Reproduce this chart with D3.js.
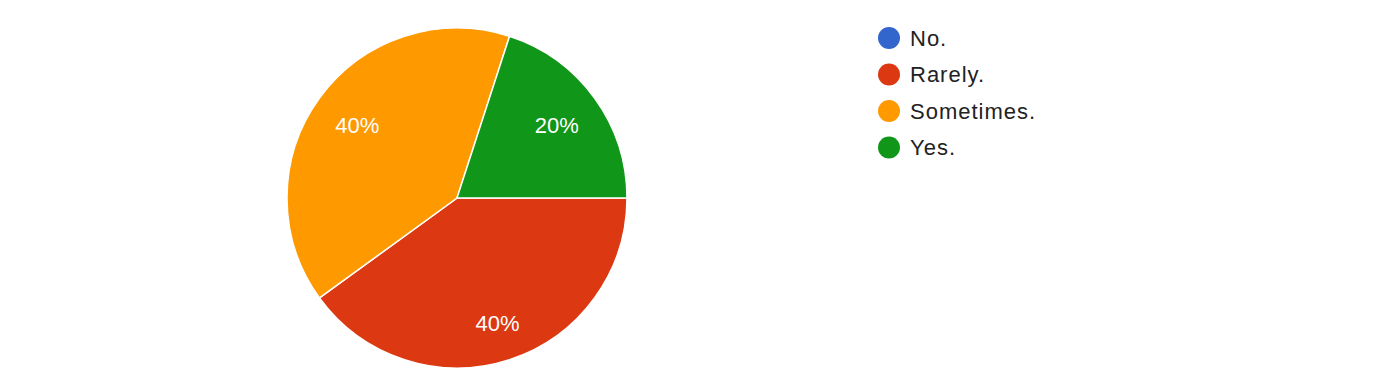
<!DOCTYPE html>
<html>
<head>
  <meta charset="utf-8"/>
  <title>Pie</title>
  <style type="text/css">
    body { margin:0; padding:0; background-color:white; }
    text { font-family: Arial, "Liberation Sans", sans-serif; }
  </style>
  <script src="https://cdn.jsdelivr.net/npm/d3@7"></script>
</head>
<body>
<script type="text/javascript">

  var categories = ["No.", "Rarely.", "Sometimes.", "Yes."];
  var values = [0, 2, 2, 1];
  var colors = ["#3366cc", "#dc3912", "#ff9900", "#109618"];

  var w = 1387, h = 389;
  var cx = 457, cy = 198, radius = 170;

  var svg = d3.select("body").append("svg")
              .attr("width", w)
              .attr("height", h);

  var total = d3.sum(values);

  // slices go clockwise from 3 o'clock
  var pie = d3.pie()
              .sort(null)
              .startAngle(Math.PI / 2)
              .endAngle(Math.PI / 2 + 2 * Math.PI)
              .value(function(d) { return d; });

  var arc = d3.arc().innerRadius(0).outerRadius(radius);

  var pieGroup = svg.append("g").attr("transform", "translate(" + cx + "," + cy + ")");

  var arcs = pie(values).filter(function(d) { return d.value > 0; });

  pieGroup.selectAll("path")
          .data(arcs)
          .enter().append("path")
          .attr("d", arc)
          .style("fill", function(d) { return colors[d.index]; })
          .style("stroke", "white")
          .style("stroke-width", 1.5);

  // labels: outer edge of the text box sits at a fixed radius
  var edge = radius * 0.86;
  pieGroup.selectAll("text")
          .data(arcs)
          .enter().append("text")
          .attr("text-anchor", "middle")
          .attr("dy", "0.36em")
          .style("fill", "white")
          .style("font-size", "22px")
          .text(function(d) { return Math.round(d.value / total * 100) + "%"; })
          .attr("transform", function(d) {
            var a = (d.startAngle + d.endAngle) / 2,
                s = Math.sin(a), c = Math.cos(a),
                hw = this.getComputedTextLength() / 2, hh = 8.5,
                r = edge - (hw * Math.abs(s) + hh * Math.abs(c));
            return "translate(" + (r * s) + "," + (-r * c) + ")";
          });

  // legend
  var legend = svg.append("g").attr("transform", "translate(889,38)");
  var item = legend.selectAll("g")
                   .data(categories)
                   .enter().append("g")
                   .attr("transform", function(d, i) { return "translate(0," + (i * 36.5) + ")"; });

  item.append("circle")
      .attr("r", 11)
      .style("fill", function(d, i) { return colors[i]; });

  item.append("text")
      .attr("x", 21)
      .attr("dy", "0.36em")
      .style("font-size", "22px")
      .style("letter-spacing", "1px")
      .style("fill", "#222222")
      .text(function(d) { return d; });

</script>
</body>
</html>
